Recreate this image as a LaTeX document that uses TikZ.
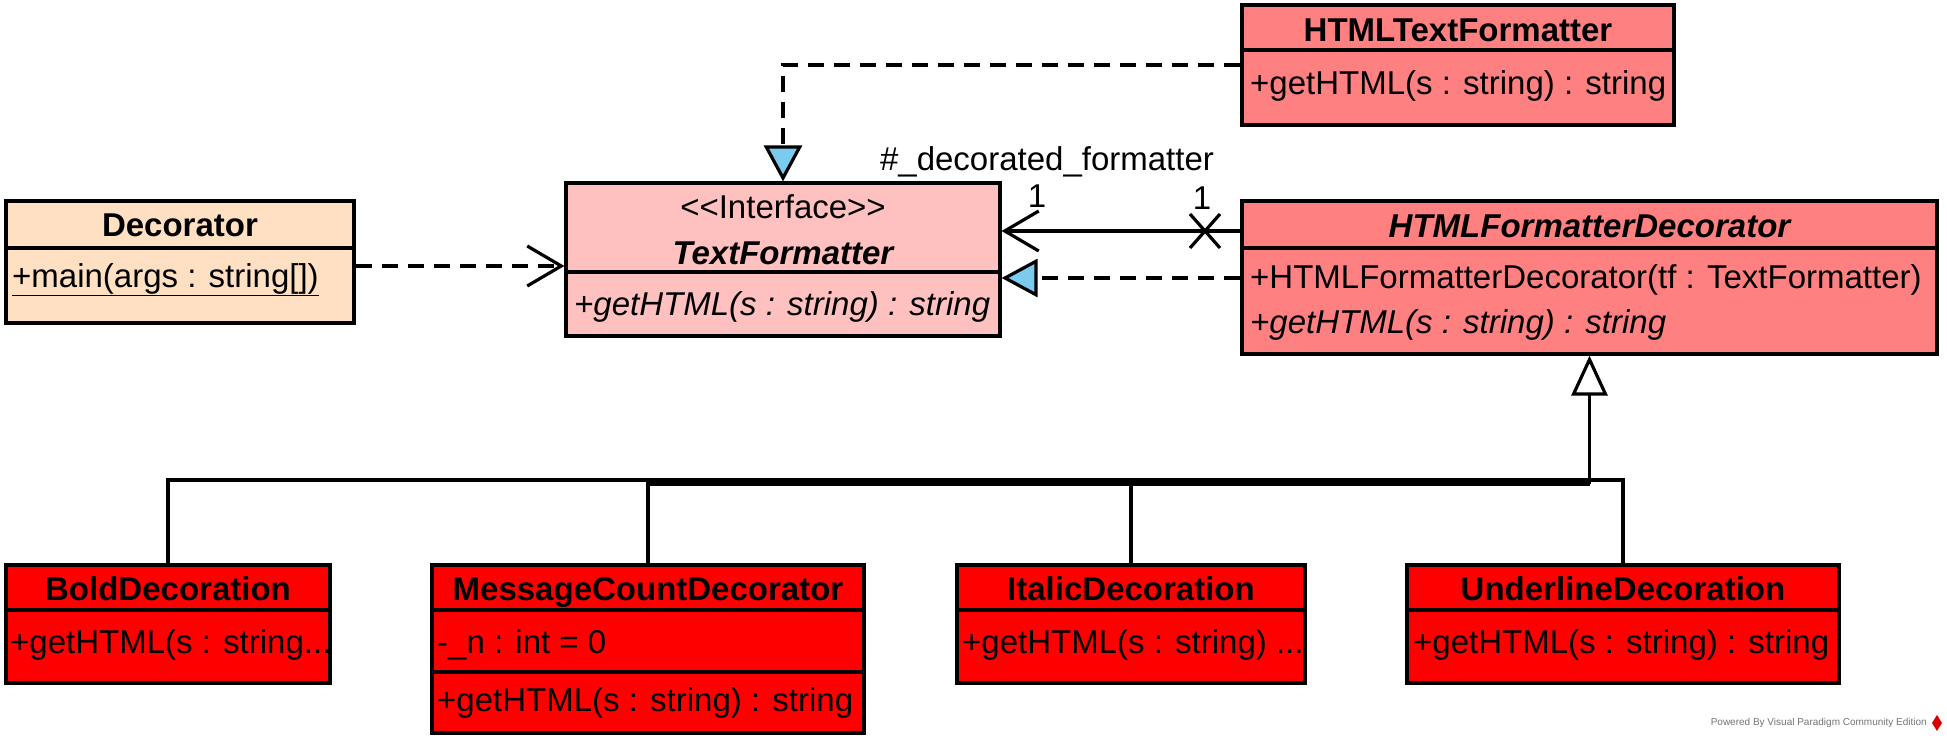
\documentclass[tikz,border=0pt]{standalone}
\usepackage{fontspec}
\setmainfont{Liberation Sans}
\usetikzlibrary{arrows.meta}
\definecolor{cDec}{HTML}{FFE0C2}
\definecolor{cIface}{HTML}{FFC0C0}
\definecolor{cAbs}{HTML}{FF8080}
\definecolor{cLeaf}{HTML}{FF0000}
\definecolor{cTri}{HTML}{7BCBEF}
\begin{document}
\begin{tikzpicture}[x=1pt,y=-1pt,
  classbox/.style={draw=black, line width=3.2pt, rectangle, inner sep=0pt},
  sepline/.style={draw=black, line width=3.2pt},
  txt/.style={inner sep=0pt, yshift=-3pt, font=\fontsize{33}{40}\selectfont, text height=23.5pt, text depth=7pt},
  lbl/.style={txt, anchor=west},
  ttl/.style={txt, font=\fontsize{33}{40}\selectfont\bfseries},
  conn/.style={draw=black, line width=3.2pt},
  dashedconn/.style={conn, dash pattern=on 16pt off 10pt},
  opentip/.style={-{Straight Barb[length=34pt,width=40pt]}},
  realtip/.style={-{Triangle[length=36pt,width=38pt,fill=cTri]}},
  gentip/.style={-{Triangle[length=40pt,width=36pt,fill=white]}}
]
\useasboundingbox (0,0) rectangle (1947,741);

% ---------- class boxes ----------
\node[classbox, fill=cDec, minimum width=348pt, minimum height=122pt] (dec) at (180,262) {};
\draw[sepline] (dec.west |- 0,248) -- (dec.east |- 0,248);
\node[ttl] (decT) at (180,225) {Decorator};
\node[lbl] (decM) at (12,276) {\underline{+main(args : string[])}};

\node[classbox, fill=cIface, minimum width=434pt, minimum height=153pt] (tf) at (783,259.5) {};
\draw[sepline] (tf.west |- 0,272) -- (tf.east |- 0,272);
\node[txt] (tfS) at (783,207) {<\kern0pt<Interface>\kern0pt>};
\node[ttl, font=\fontsize{33}{40}\selectfont\bfseries\itshape] (tfT) at (783,253) {TextFormatter};
\node[lbl, font=\fontsize{33}{40}\selectfont\itshape] (tfM) at (574,304) {+getHTML(s : string) : string};

\node[classbox, fill=cAbs, minimum width=432pt, minimum height=120pt] (htf) at (1458,65) {};
\draw[sepline] (htf.west |- 0,50) -- (htf.east |- 0,50);
\node[ttl] (htfT) at (1458,30) {HTMLTextFormatter};
\node[lbl] (htfM) at (1250,83) {+getHTML(s : string) : string};

\node[classbox, fill=cAbs, minimum width=695pt, minimum height=153pt] (hfd) at (1589.5,277.5) {};
\draw[sepline] (hfd.west |- 0,248) -- (hfd.east |- 0,248);
\node[ttl, font=\fontsize{33}{40}\selectfont\bfseries\itshape] (hfdT) at (1589.5,226) {HTMLFormatterDecorator};
\node[lbl] (hfdM1) at (1250,277) {+HTMLFormatterDecorator(tf : TextFormatter)};
\node[lbl, font=\fontsize{33}{40}\selectfont\itshape] (hfdM2) at (1250,322) {+getHTML(s : string) : string};

\node[classbox, fill=cLeaf, minimum width=324pt, minimum height=118pt] (bd) at (168,624) {};
\draw[sepline] (bd.west |- 0,610) -- (bd.east |- 0,610);
\node[ttl] (bdT) at (168,589) {BoldDecoration};
\node[lbl] (bdM) at (10,642) {+getHTML(s : string...};

\node[classbox, fill=cLeaf, minimum width=432pt, minimum height=168pt] (mc) at (648,649) {};
\draw[sepline] (mc.west |- 0,610) -- (mc.east |- 0,610);
\draw[sepline] (mc.west |- 0,672) -- (mc.east |- 0,672);
\node[ttl] (mcT) at (648,589) {MessageCountDecorator};
\node[lbl] (mcA) at (437,642) {-\_n : int = 0};
\node[lbl] (mcM) at (437,700) {+getHTML(s : string) : string};

\node[classbox, fill=cLeaf, minimum width=348pt, minimum height=118pt] (it) at (1131,624) {};
\draw[sepline] (it.west |- 0,610) -- (it.east |- 0,610);
\node[ttl] (itT) at (1131,589) {ItalicDecoration};
\node[lbl] (itM) at (962,642) {+getHTML(s : string) ...};

\node[classbox, fill=cLeaf, minimum width=432pt, minimum height=118pt] (ul) at (1623,624) {};
\draw[sepline] (ul.west |- 0,610) -- (ul.east |- 0,610);
\node[ttl] (ulT) at (1623,589) {UnderlineDecoration};
\node[lbl] (ulM) at (1413,642) {+getHTML(s : string) : string};

% ---------- connectors ----------
% dependency Decorator -> TextFormatter
\draw[dashedconn, opentip] (dec.east |- 0,266) -- (tf.west |- 0,266);
% realization HTMLTextFormatter -> TextFormatter
\draw[dashedconn, realtip] (htf.west |- 0,65) -| (tf.north);
% realization HTMLFormatterDecorator -> TextFormatter
\draw[dashedconn, realtip] (hfd.west |- 0,278) -- (tf.east |- 0,278);
% association
\draw[conn, opentip] (hfd.west |- 0,231) -- (tf.east |- 0,231);
\coordinate (xm) at (1205,231);
\draw[conn] (xm) ++(-15,-17) -- ++(30,34);
\draw[conn] (xm) ++(15,-17) -- ++(-30,34);
\node[txt] (m1) at (1037,196) {1};
\node[txt] (m2) at (1202,198) {1};
\node[txt] (role) at (1047,159) {\#\_decorated\_formatter};

% generalization
\coordinate (bar1) at (0,480);
\coordinate (bar2) at (0,484);
\draw[conn] (bd.north) |- (hfd.south |- bar1);
\draw[conn] (ul.north) |- (hfd.south |- bar1);
\draw[conn] (mc.north) |- (hfd.south |- bar2);
\draw[conn] (it.north) |- (hfd.south |- bar2);
\draw[conn, gentip] (hfd.south |- bar2) -- (hfd.south);

% watermark
\node[inner sep=0pt, anchor=east, text=black!55, font=\fontsize{10}{12}\selectfont] (wm) at (1927,723) {Powered By Visual Paradigm Community Edition};
\fill[red!85!black] (1937,715) -- (1942,723) -- (1937,731) -- (1932,723) -- cycle;
\end{tikzpicture}
\end{document}
